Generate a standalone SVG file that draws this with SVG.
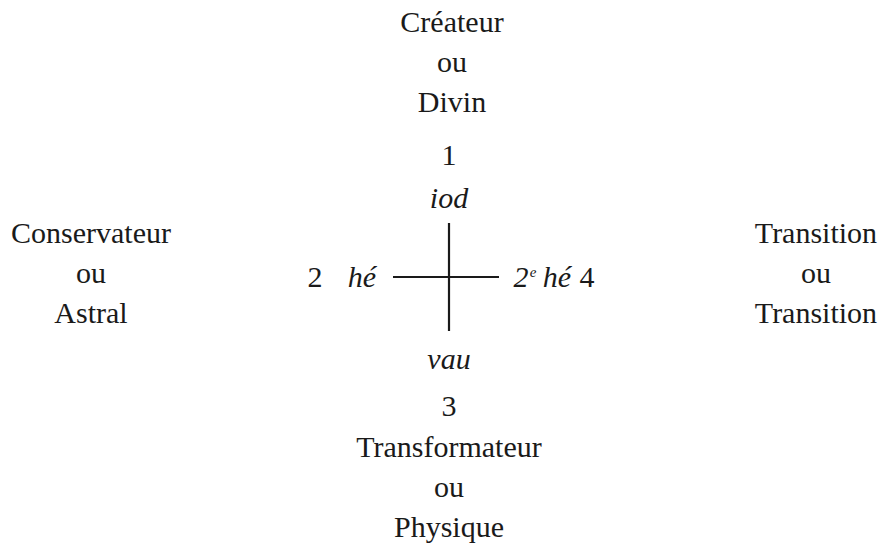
<svg xmlns="http://www.w3.org/2000/svg" width="881" height="546" viewBox="0 0 881 546">
<style>
text{font-family:"Liberation Serif","DejaVu Serif",serif;font-size:30px;fill:#1a1a1a;text-anchor:middle}
.i{font-style:italic}
.l{stroke:#1a1a1a;stroke-width:2.2;fill:none}
</style>
<rect width="881" height="546" fill="#fff"/>
<g id="top">
<text x="452" y="32">Créateur</text>
<text x="452" y="72">ou</text>
<text x="452" y="112">Divin</text>
</g>
<g id="left">
<text x="91" y="243">Conservateur</text>
<text x="91" y="283">ou</text>
<text x="91" y="323">Astral</text>
</g>
<g id="right">
<text x="816" y="243">Transition</text>
<text x="816" y="283">ou</text>
<text x="816" y="323">Transition</text>
</g>
<g id="bottom">
<text x="449" y="457">Transformateur</text>
<text x="449" y="497">ou</text>
<text x="449" y="537">Physique</text>
</g>
<g id="iod">
<text x="449" y="165">1</text>
<text x="449" y="208" class="i">iod</text>
</g>
<g id="he">
<text x="315" y="287">2</text>
<text x="362" y="287" class="i">hé</text>
</g>
<g id="he2">
<text x="521" y="287" class="i">2</text>
<text x="533" y="277" class="i" style="font-size:15px">e</text>
<text x="557" y="287" class="i">hé</text>
<text x="587" y="287">4</text>
</g>
<g id="vau">
<text x="449" y="369" class="i">vau</text>
<text x="449" y="416">3</text>
</g>
<g id="connectors">
<line class="l" x1="449" y1="223" x2="449" y2="331"/>
<line class="l" x1="393" y1="277" x2="499" y2="277"/>
</g>
</svg>
